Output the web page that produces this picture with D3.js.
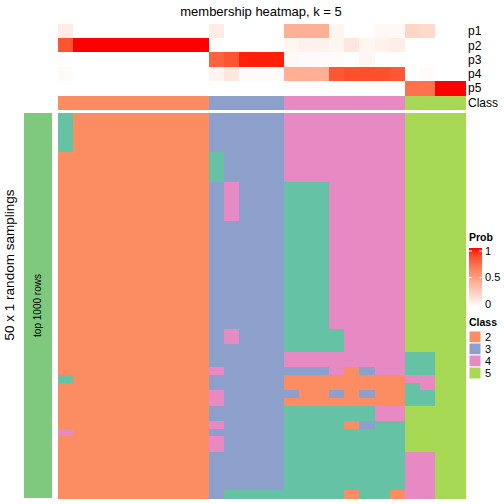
<!DOCTYPE html>
<html><head><meta charset="utf-8">
<script src="https://cdn.jsdelivr.net/npm/d3@7"></script>
<style>body{margin:0;background:#fff}svg{display:block;font-family:"Liberation Sans",Arial,sans-serif}</style>
</head><body><svg id="c" width="504" height="504"></svg>
<script>
// ---- data ----
const columns = d3.range(27).map(i => "s" + (i + 1));
const colClass = [2,2,2,2,2,2,2,2,2,2, 3,3,3,3,3, 4,4,4,4,4,4,4,4, 5,5,5,5];
const p1 = [0.1,0,0,0,0,0,0,0,0,0, 0.1,0,0,0,0, 0.42,0.42,0.42,0.05,0,0,0.04,0.04, 0.22,0.2,0,0];
const p2 = [0.83,1,1,1,1,1,1,1,1,1, 0,0,0,0,0, 0.05,0.07,0.07,0.05,0.13,0.05,0.07,0.09, 0,0,0,0];
const p3 = [0,0,0,0,0,0,0,0,0,0, 0.78,0.83,0.97,0.97,0.97, 0.04,0.02,0.02,0.02,0,0.05,0,0, 0,0,0,0];
const p4 = [0.02,0,0,0,0,0,0,0,0,0, 0.06,0.13,0.02,0.02,0.02, 0.42,0.42,0.42,0.82,0.85,0.85,0.85,0.82, 0,0.02,0,0];
const p5 = [0,0,0,0,0,0,0,0,0,0, 0,0,0,0,0, 0,0,0,0,0,0,0,0, 0.72,0.72,1,1];
const probRows = ["p1","p2","p3","p4","p5"];
const classLevels = ["1","2","3","4","5"];
const legendClasses = ["2","3","4","5"];
// 50 random samplings x 27 columns, class membership per cell
const membership = [
"122222222233333444444445555","122222222233333444444445555","122222222233333444444445555",
"122222222233333444444445555","122222222233333444444445555","222222222213333444444445555",
"222222222213333444444445555","222222222213333444444445555","222222222213333444444445555",
"222222222234333111444445555","222222222234333111444445555","222222222234333111444445555",
"222222222234333111444445555","222222222234333111444445555","222222222233333111444445555",
"222222222233333111444445555","222222222233333111444445555","222222222233333111444445555",
"222222222233333111444445555","222222222233333111444445555","222222222233333111444445555",
"222222222233333111444445555","222222222233333111444445555","222222222233333111444445555",
"222222222233333111444445555","222222222233333111444445555","222222222233333111444445555",
"222222222233333111444445555","222222222234333111144445555","222222222234333111144445555",
"222222222233333111144445555","222222222233333444444441155","222222222233333444444441155",
"222222222243333333423441155","122222222233333222222224455","222222222233333222222221455",
"222222222243333322323221155","222222222243333222222221155","222222222233333111111445555",
"222222222233333111111445555","222222222243333111123115555","422222222233333111111115555",
"222222222243333111111115555","222222222243333111111115555","222222222233333111111114455",
"222222222233333111111114455","222222222233333111111114455","222222222233333111111114455",
"222222222233333111111114455","222222222231111111121124455"
];

// ---- layout ----
const svg = d3.select("#c");
const X0 = 58, X1 = 465, Y0 = 113, Y1 = 498;
const x = d3.scaleBand().domain(columns).range([X0, X1]);
const y = d3.scaleBand().domain(d3.range(membership.length)).range([Y0, Y1]);
const yAnn = d3.scaleBand().domain(probRows).range([24, 95]);
const classColor = d3.scaleOrdinal().domain(classLevels)
  .range(["#66C2A5","#FC8D62","#8DA0CB","#E78AC3","#A6D854"]);
const probColor = d3.scaleLinear().domain([0,1]).range(["#FFFFFF","#FF0000"]).interpolate(d3.interpolateLab);

// title
svg.append("text").attr("x", 261).attr("y", 16).attr("text-anchor","middle")
  .attr("font-size", 13).text("membership heatmap, k = 5");

// prob annotation
const probData = [p1,p2,p3,p4,p5];
probRows.forEach((r, ri) => {
  svg.append("g").attr("shape-rendering","crispEdges").selectAll("rect").data(probData[ri]).join("rect")
    .attr("x", (d,i) => x(columns[i])).attr("y", yAnn(r))
    .attr("width", x.bandwidth() + 0.5).attr("height", yAnn.bandwidth() + 0.5)
    .attr("fill", d => probColor(d));
  svg.append("text").attr("x", 468).attr("y", yAnn(r) + yAnn.bandwidth()/2)
    .attr("dy","0.35em").attr("font-size", 12).text(r);
});
// class annotation
svg.append("g").attr("shape-rendering","crispEdges").selectAll("rect").data(colClass).join("rect")
  .attr("x", (d,i) => x(columns[i])).attr("y", 96)
  .attr("width", x.bandwidth() + 0.5).attr("height", 13.5)
  .attr("fill", d => classColor(String(d)));
svg.append("text").attr("x", 468).attr("y", 103).attr("dy","0.35em")
  .attr("font-size", 12).text("Class");

// main heatmap
const cells = [];
membership.forEach((row, ri) => row.split("").forEach((c, ci) => cells.push({r: ri, c: ci, v: c})));
svg.append("g").attr("shape-rendering","crispEdges").selectAll("rect").data(cells).join("rect")
  .attr("x", d => x(columns[d.c])).attr("y", d => y(d.r))
  .attr("width", x.bandwidth() + 0.5).attr("height", y.bandwidth() + 0.5)
  .attr("fill", d => classColor(d.v));

// left annotation
svg.append("rect").attr("x", 24).attr("y", Y0).attr("width", 28).attr("height", Y1 - Y0)
  .attr("fill", "#7FC97F");
svg.append("text").attr("transform", `translate(41,${(Y0+Y1)/2}) rotate(-90)`)
  .attr("text-anchor","middle").attr("font-size", 10).text("top 1000 rows");
svg.append("text").attr("transform", `translate(14,265) rotate(-90)`)
  .attr("text-anchor","middle").attr("font-size", 13.5).text("50 x 1 random samplings");

// Prob legend
const lg = svg.append("g");
lg.append("text").attr("x", 469).attr("y", 241).attr("font-size", 10.5).attr("font-weight","bold").text("Prob");
const ly = d3.scaleLinear().domain([0,1]).range([304, 251]);
const grad = svg.append("defs").append("linearGradient").attr("id","pg")
  .attr("x1",0).attr("x2",0).attr("y1",1).attr("y2",0);
d3.range(0, 1.01, 0.1).forEach(t => grad.append("stop").attr("offset", t).attr("stop-color", probColor(t)));
lg.append("rect").attr("x", 469).attr("y", 248).attr("width", 13).attr("height", 59).attr("fill","url(#pg)");
[0, 0.5, 1].forEach(t => {
  lg.append("line").attr("x1",469).attr("x2",472).attr("y1",ly(t)).attr("y2",ly(t)).attr("stroke","#fff");
  lg.append("line").attr("x1",479).attr("x2",482).attr("y1",ly(t)).attr("y2",ly(t)).attr("stroke","#fff");
  lg.append("text").attr("x", 485).attr("y", ly(t)).attr("dy","0.35em").attr("font-size", 11).text(String(t));
});

// Class legend
lg.append("text").attr("x", 469).attr("y", 326).attr("font-size", 10.5).attr("font-weight","bold").text("Class");
const ky = d3.scaleBand().domain(legendClasses).range([331, 379]);
legendClasses.forEach(k => {
  lg.append("rect").attr("x", 469).attr("y", ky(k)).attr("width", 12).attr("height", ky.bandwidth())
    .attr("fill", classColor(k)).attr("stroke","#fff").attr("stroke-width",1);
  lg.append("text").attr("x", 485).attr("y", ky(k) + ky.bandwidth()/2).attr("dy","0.35em")
    .attr("font-size", 11).text(k);
});
</script></body></html>
